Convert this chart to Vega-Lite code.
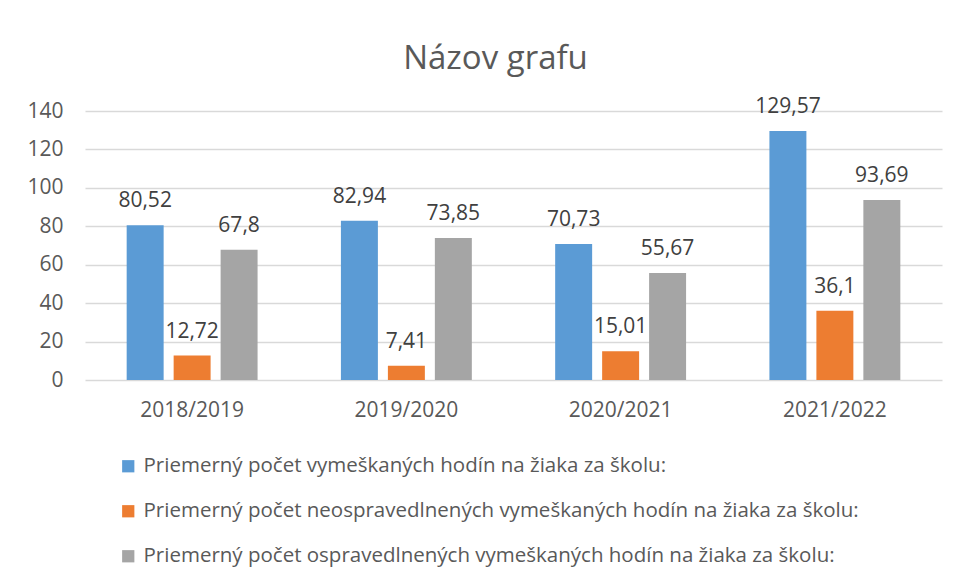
{
  "$schema": "https://vega.github.io/schema/vega-lite/v6.json",
  "width": 857,
  "height": 269,
  "autosize": {"type": "none"},
  "padding": {"left": 85, "top": 111, "right": 18, "bottom": 203},
  "background": "white",
  "title": {
    "text": "Názov grafu",
    "anchor": "middle",
    "font": "Open Sans",
    "fontSize": 33,
    "fontWeight": "normal",
    "color": "#595959",
    "offset": 20,
    "dx": -18
  },
  "config": {
    "view": {"stroke": null},
    "locale": {"number": {"decimal": ",", "thousands": " ", "grouping": [3], "currency": ["", " €"]}},
    "font": "Open Sans"
  },
  "data": {
    "values": [
      {"rok": "2018/2019", "serie": "Priemerný počet vymeškaných hodín na žiaka za školu:", "hodnota": 80.52},
      {"rok": "2018/2019", "serie": "Priemerný počet neospravedlnených vymeškaných hodín na žiaka za školu:", "hodnota": 12.72},
      {"rok": "2018/2019", "serie": "Priemerný počet ospravedlnených vymeškaných hodín na žiaka za školu:", "hodnota": 67.8},
      {"rok": "2019/2020", "serie": "Priemerný počet vymeškaných hodín na žiaka za školu:", "hodnota": 82.94},
      {"rok": "2019/2020", "serie": "Priemerný počet neospravedlnených vymeškaných hodín na žiaka za školu:", "hodnota": 7.41},
      {"rok": "2019/2020", "serie": "Priemerný počet ospravedlnených vymeškaných hodín na žiaka za školu:", "hodnota": 73.85},
      {"rok": "2020/2021", "serie": "Priemerný počet vymeškaných hodín na žiaka za školu:", "hodnota": 70.73},
      {"rok": "2020/2021", "serie": "Priemerný počet neospravedlnených vymeškaných hodín na žiaka za školu:", "hodnota": 15.01},
      {"rok": "2020/2021", "serie": "Priemerný počet ospravedlnených vymeškaných hodín na žiaka za školu:", "hodnota": 55.67},
      {"rok": "2021/2022", "serie": "Priemerný počet vymeškaných hodín na žiaka za školu:", "hodnota": 129.57},
      {"rok": "2021/2022", "serie": "Priemerný počet neospravedlnených vymeškaných hodín na žiaka za školu:", "hodnota": 36.1},
      {"rok": "2021/2022", "serie": "Priemerný počet ospravedlnených vymeškaných hodín na žiaka za školu:", "hodnota": 93.69}
    ]
  },
  "encoding": {
    "x": {
      "field": "rok",
      "type": "nominal",
      "sort": null,
      "scale": {"paddingInner": 0.389, "paddingOuter": 0.1945},
      "axis": {
        "title": null,
        "labelAngle": 0,
        "labelFont": "Open Sans",
        "labelFontSize": 21,
        "labelColor": "#595959",
        "labelPadding": 19,
        "ticks": false,
        "domain": false,
        "grid": false
      }
    },
    "xOffset": {
      "field": "serie",
      "type": "nominal",
      "sort": null,
      "scale": {"paddingInner": 0.213, "paddingOuter": 0}
    },
    "y": {
      "field": "hodnota",
      "type": "quantitative",
      "scale": {"domain": [0, 140], "nice": false},
      "axis": {
        "title": null,
        "values": [0, 20, 40, 60, 80, 100, 120, 140],
        "labelFont": "Open Sans",
        "labelFontSize": 21,
        "labelColor": "#595959",
        "labelPadding": 22,
        "ticks": false,
        "domain": false,
        "grid": true,
        "gridColor": "#D9D9D9",
        "gridWidth": 1.5
      }
    }
  },
  "layer": [
    {
      "mark": {"type": "bar"},
      "encoding": {
        "color": {
          "field": "serie",
          "type": "nominal",
          "sort": null,
          "scale": {
            "domain": [
              "Priemerný počet vymeškaných hodín na žiaka za školu:",
              "Priemerný počet neospravedlnených vymeškaných hodín na žiaka za školu:",
              "Priemerný počet ospravedlnených vymeškaných hodín na žiaka za školu:"
            ],
            "range": ["#5B9BD5", "#ED7D31", "#A5A5A5"]
          },
          "legend": {
            "title": null,
            "orient": "none",
            "legendX": 33,
            "legendY": 345,
            "direction": "vertical",
            "symbolType": "square",
            "symbolSize": 150,
            "symbolStrokeWidth": 0,
            "symbolOpacity": 1,
            "labelFont": "Open Sans",
            "labelFontSize": 20.5,
            "labelColor": "#595959",
            "labelOffset": 5,
            "labelLimit": 900,
            "rowPadding": 24
          }
        }
      }
    },
    {
      "mark": {
        "type": "text",
        "baseline": "alphabetic",
        "dy": -18,
        "font": "Open Sans",
        "fontSize": 21,
        "color": "#404040"
      },
      "encoding": {
        "text": {"field": "hodnota", "type": "quantitative", "format": "~f"}
      }
    }
  ]
}
